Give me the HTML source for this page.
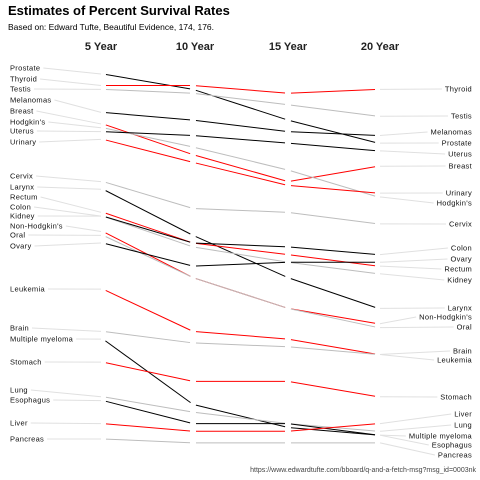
<!DOCTYPE html>
<html><head><meta charset="utf-8"><style>
html,body{margin:0;padding:0;background:#fff}
svg{display:block;font-family:"Liberation Sans",sans-serif}
</style></head><body>
<svg id="chart" width="480" height="480" viewBox="0 0 480 480">
<text x="8" y="15" font-size="13" font-weight="bold" fill="#000">Estimates of Percent Survival Rates</text>
<text x="8" y="30" font-size="8.5" fill="#000">Based on: Edward Tufte, Beautiful Evidence, 174, 176.</text>
<text x="476" y="472" font-size="7" fill="#444" text-anchor="end">https://www.edwardtufte.com/bboard/q-and-a-fetch-msg?msg_id=0003nk</text>
<g id="plot"></g>
</svg>
<script>
const periods = ["5 Year","10 Year","15 Year","20 Year"];
const cancers = ["Prostate","Thyroid","Testis","Melanomas","Breast","Hodgkin's","Uterus","Urinary","Cervix","Larynx","Rectum","Kidney","Colon","Non-Hodgkin's","Oral","Ovary","Leukemia","Brain","Multiple myeloma","Stomach","Lung","Esophagus","Liver","Pancreas"];
const year5  = [99,96,95,89,86,85,84,82,71,69,63,62,62,58,57,55,43,32,30,24,15,14,8,4];
const year10 = [95,96,94,87,78,80,83,76,64,57,55,54,55,46,46,49,32,29,13,19,11,8,6,3];
const year15 = [87,94,91,84,71,74,81,70,63,46,52,50,54,38,38,50,30,28,7,19,8,8,6,3];
const year20 = [81,95,88,83,75,67,79,68,60,38,49,47,52,34,33,50,26,26,5,15,6,5,8,3];
const leftLabelY  = [68,79,89,100,111,122,131,142,176,187,197,216,207,226,235,246,289,328,339,362,390,400,423,439];
const rightLabelY = [143,89,116,132,166,203,154,193,224,308,269,280,248,317,327,259,360,351,436,397,425,445,414,455];
const colorKey = ["k","r","g","k","r","g","k","r","g","k","r","g","k","r","g","k","r","g","k","r","g","k","r","g"];
const palette = {k:"#000",r:"#ff0000",g:"#bdbdbd"};

const xCols = [103,193,288,378];
const headerX = [101,195,288,380];
function yScale(v){ return 74 + (99 - v) * 3.842; }

const NS = "http://www.w3.org/2000/svg";
const plot = document.getElementById("plot");
function mk(tag, attrs, parent){
  const e = document.createElementNS(NS, tag);
  for (const k in attrs) e.setAttribute(k, attrs[k]);
  (parent || plot).appendChild(e);
  return e;
}

periods.forEach((p,i)=>{
  const t = mk("text",{x:headerX[i],y:50,"font-size":11,"font-weight":"bold","text-anchor":"middle",fill:"#222"});
  t.textContent = p;
  
  
});

const series = cancers.map((c,i)=>[year5[i],year10[i],year15[i],year20[i]]);

cancers.forEach((c,i)=>{
  const vals = series[i];
  const y0 = yScale(vals[0]), y3 = yScale(vals[3]);
  const lt = mk("text",{x:10,y:leftLabelY[i]+2.5,"font-size":7.5,fill:"#111","letter-spacing":"0.3"});
  lt.textContent = c;
  
  
  const lw = lt.getComputedTextLength ? lt.getComputedTextLength() : c.length*4.5;
  const cl = mk("line",{x1:10+lw+3,y1:leftLabelY[i],x2:xCols[0]-2,y2:y0,stroke:"#e0e0e0","stroke-width":1});
  
  
  const rt = mk("text",{x:472,y:rightLabelY[i]+2.5,"font-size":7.5,fill:"#111","text-anchor":"end","letter-spacing":"0.3"});
  rt.textContent = c;
  
  
  const rw = rt.getComputedTextLength ? rt.getComputedTextLength() : c.length*4.5;
  const cr = mk("line",{x1:xCols[3]+2,y1:y3,x2:472-rw-3,y2:rightLabelY[i],stroke:"#e0e0e0","stroke-width":1});
  
  
});

cancers.forEach((c,i)=>{
  const vals = series[i];
  const col = palette[colorKey[i]];
  for (let s=0;s<3;s++){
    const x1 = xCols[s], x2 = xCols[s+1];
    const y1 = yScale(vals[s]), y2 = yScale(vals[s+1]);
    const dx = x2-x1, dy = y2-y1, L = Math.hypot(dx,dy), g = 3/L;
    const seg = mk("line",{x1:x1+dx*g,y1:y1+dy*g,x2:x2-dx*g,y2:y2-dy*g,stroke:col,"stroke-width":1});
    
    
  }
});
</script>
</body></html>
